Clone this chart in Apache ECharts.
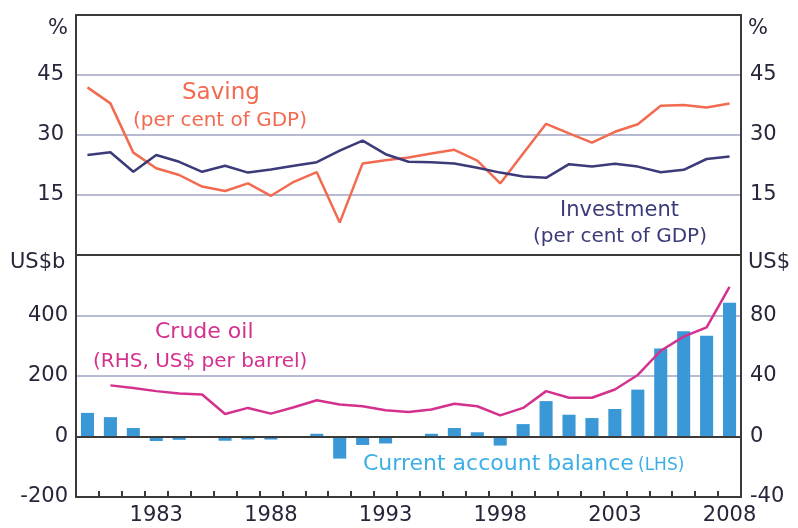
<!DOCTYPE html>
<html>
<head>
<meta charset="utf-8">
<script src="https://cdn.jsdelivr.net/npm/echarts@6/dist/echarts.min.js"></script>
<style>
  html, body { margin: 0; padding: 0; background: #fff; }
</style>
</head>
<body>
<div id="chart" style="width: 798px; height: 528px"></div>
<script>
// years on the shared x axis
var years = ['1980','1981','1982','1983','1984','1985','1986','1987','1988','1989',
  '1990','1991','1992','1993','1994','1995','1996','1997','1998','1999',
  '2000','2001','2002','2003','2004','2005','2006','2007','2008'];

// top panel, per cent of GDP
var saving = [41.9, 37.9, 25.6, 21.7, 20.0, 17.1, 16.0, 17.9, 14.8, 18.3,
  20.7, 8.1, 22.9, 23.7, 24.4, 25.4, 26.3, 23.6, 17.9, 25.4,
  32.8, 30.4, 28.1, 30.8, 32.7, 37.3, 37.5, 36.9, 37.9];
var investment = [25.0, 25.7, 20.8, 25.0, 23.3, 20.8, 22.3, 20.6, 21.4, 22.3,
  23.2, 26.1, 28.6, 25.2, 23.3, 23.2, 22.9, 21.8, 20.6, 19.6,
  19.3, 22.7, 22.1, 22.8, 22.1, 20.7, 21.3, 24.0, 24.6];

// bottom panel
var currentAccount = [78, 64, 28, -15, -11, 0, -14, -10, -10, 0,
  9, -73, -28, -23, 0, 9, 28, 14, -30, 41,
  117, 72, 61, 91, 155, 291, 348, 333, 442];  // US$b, LHS
var crudeOil = [null, 33.8, 32.0, 30.0, 28.5, 27.8, 14.9, 18.9, 15.1, 19.3,
  24.0, 21.1, 20.0, 17.3, 16.2, 17.8, 21.6, 20.0, 14.0, 18.9,
  30.0, 25.6, 25.6, 31.1, 40.7, 56.7, 66.0, 72.2, 98.9];  // US$ per barrel, RHS

var topTicks = [15, 30, 45];
var cabTicks = [-200, 0, 200, 400];
var oilTicks = [-40, 0, 40, 80];

var font = 'DejaVu Sans';
var textColor = '#26263a';
var gridColor = '#b6bad2';
var frameColor = '#3a3a3a';

function tickFmt(list) {
  return function (v) { return list.indexOf(v) >= 0 ? String(v) : ''; };
}

var frameLine = { show: true, onZero: false, lineStyle: { color: frameColor, width: 2 } };
var inner = { lineStyle: { color: gridColor, width: 2 }, showMinLine: false, showMaxLine: false };

var chart = echarts.init(document.getElementById('chart'));

chart.setOption({
  animation: false,
  backgroundColor: '#fff',
  grid: [
    { left: 76, right: 57, top: 15, height: 240 },
    { left: 76, right: 57, top: 255, height: 242 }
  ],
  xAxis: [
    {
      gridIndex: 0, type: 'category', data: years, position: 'bottom',
      axisLine: frameLine, axisTick: { show: false }, axisLabel: { show: false }
    },
    {
      gridIndex: 1, type: 'category', data: years, position: 'bottom',
      axisLine: frameLine,
      axisTick: { show: true, inside: true, length: 6, interval: 0, lineStyle: { color: frameColor, width: 2 } },
      axisLabel: {
        interval: function (i, v) { return (Number(v) - 1983) % 5 === 0; },
        margin: 8, fontFamily: font, fontSize: 21, color: textColor
      }
    },
    {
      gridIndex: 0, type: 'category', data: years, position: 'top',
      axisLine: frameLine, axisTick: { show: false }, axisLabel: { show: false }
    }
  ],
  yAxis: [
    {
      gridIndex: 0, position: 'left', min: 0, max: 60, interval: 15,
      axisLine: frameLine, axisTick: { show: false },
      axisLabel: { formatter: tickFmt(topTicks), margin: 12, fontFamily: font, fontSize: 21, color: textColor },
      splitLine: inner
    },
    {
      gridIndex: 0, position: 'right', min: 0, max: 60, interval: 15,
      axisLine: frameLine, axisTick: { show: false },
      axisLabel: { formatter: tickFmt(topTicks), margin: 9, fontFamily: font, fontSize: 21, color: textColor },
      splitLine: { show: false }
    },
    {
      gridIndex: 1, position: 'left', min: -200, max: 600, interval: 200,
      axisLine: frameLine, axisTick: { show: false },
      axisLabel: { formatter: tickFmt(cabTicks), margin: 8, fontFamily: font, fontSize: 21, color: textColor },
      splitLine: inner
    },
    {
      gridIndex: 1, position: 'right', min: -40, max: 120, interval: 40,
      axisLine: frameLine, axisTick: { show: false },
      axisLabel: { formatter: tickFmt(oilTicks), margin: 9, fontFamily: font, fontSize: 21, color: textColor },
      splitLine: { show: false }
    }
  ],
  series: [
    {
      name: 'Saving', type: 'line', xAxisIndex: 0, yAxisIndex: 0, data: saving,
      symbol: 'none', lineStyle: { color: '#f26a50', width: 2.5 }
    },
    {
      name: 'Investment', type: 'line', xAxisIndex: 0, yAxisIndex: 0, data: investment,
      symbol: 'none', lineStyle: { color: '#3b3b7a', width: 2.5 }
    },
    {
      name: 'Current account balance', type: 'bar', xAxisIndex: 1, yAxisIndex: 2, data: currentAccount,
      barWidth: '57%', itemStyle: { color: '#3a98d6' },
      markLine: {
        silent: true, symbol: 'none', label: { show: false },
        lineStyle: { color: frameColor, width: 2, type: 'solid' },
        data: [{ yAxis: 0 }]
      }
    },
    {
      name: 'Crude oil', type: 'line', xAxisIndex: 1, yAxisIndex: 3, data: crudeOil,
      symbol: 'none', lineStyle: { color: '#d4318f', width: 2.5 }
    }
  ],
  graphic: [
    { type: 'text', left: 48, top: 18, style: { text: '%', font: '21px "DejaVu Sans"', fill: textColor } },
    { type: 'text', left: 748, top: 18, style: { text: '%', font: '21px "DejaVu Sans"', fill: textColor } },
    { type: 'text', left: 10, top: 252, style: { text: 'US$b', font: '21px "DejaVu Sans"', fill: textColor } },
    { type: 'text', left: 748, top: 252, style: { text: 'US$', font: '21px "DejaVu Sans"', fill: textColor } },

    { type: 'text', left: 182, top: 82, style: { text: 'Saving', font: '23px "DejaVu Sans"', fill: '#f26a50' } },
    { type: 'text', left: 133, top: 111, style: { text: '(per cent of GDP)', font: '20px "DejaVu Sans"', fill: '#f26a50' } },

    { type: 'text', left: 560, top: 200, style: { text: 'Investment', font: '21px "DejaVu Sans"', fill: '#3b3b7a' } },
    { type: 'text', left: 533, top: 227, style: { text: '(per cent of GDP)', font: '20px "DejaVu Sans"', fill: '#3b3b7a' } },

    { type: 'text', left: 155, top: 321, style: { text: 'Crude oil', font: '22px "DejaVu Sans"', fill: '#d4318f' } },
    { type: 'text', left: 93, top: 352, style: { text: '(RHS, US$ per barrel)', font: '20px "DejaVu Sans"', fill: '#d4318f' } },

    { type: 'text', left: 363, top: 453, style: { text: 'Current account balance', font: '22px "DejaVu Sans"', fill: '#3cb0e6' } },
    { type: 'text', left: 638, top: 457, style: { text: '(LHS)', font: '17px "DejaVu Sans"', fill: '#3cb0e6' } }
  ]
});
</script>
</body>
</html>
